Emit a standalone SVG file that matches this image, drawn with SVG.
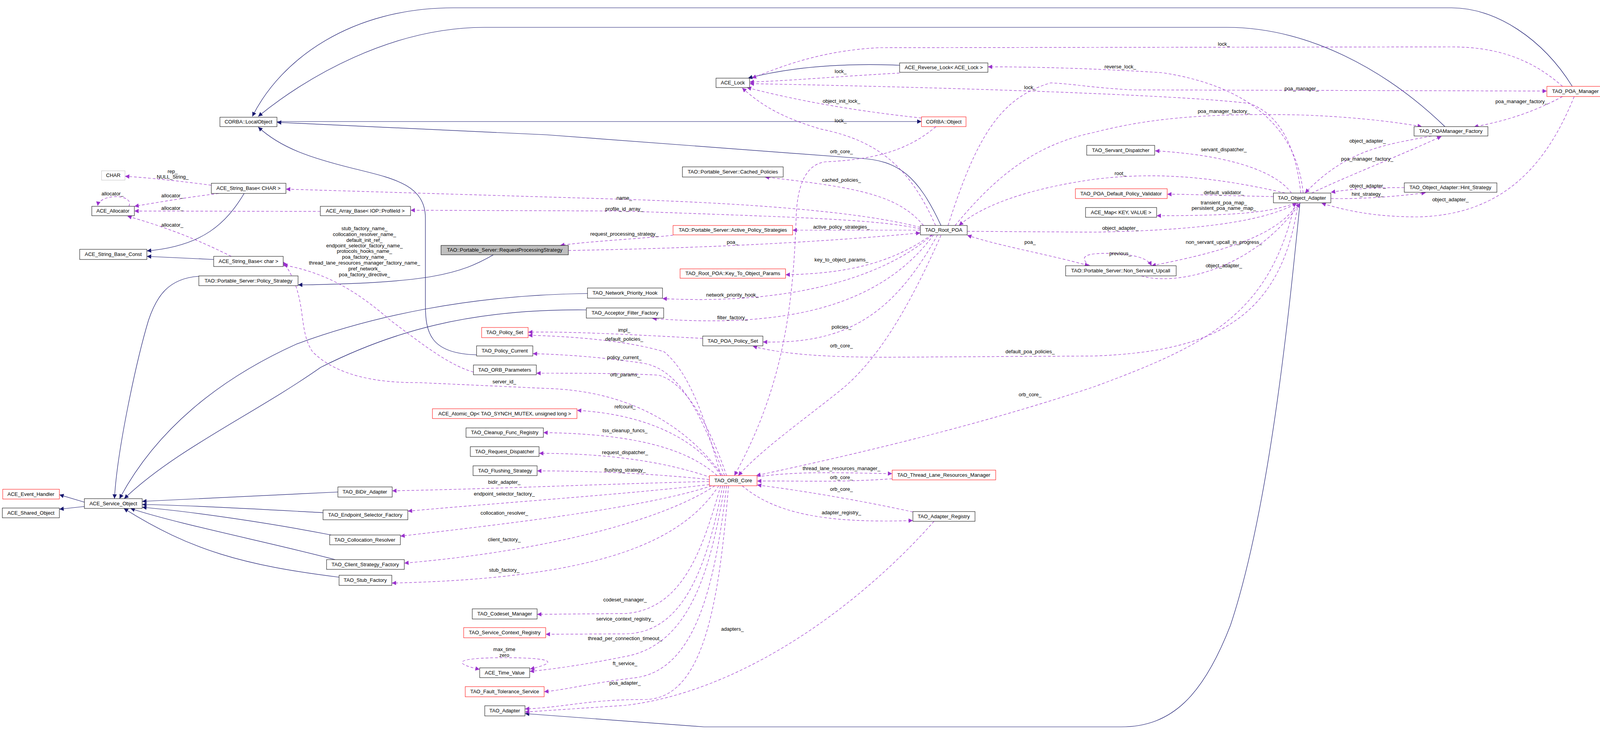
<svg xmlns="http://www.w3.org/2000/svg" width="4168" height="1868" viewBox="0 0 4168 1868">
<style>
text{font-family:"Liberation Sans",Arial,sans-serif;font-size:13px;fill:#000}
.n text{text-anchor:middle}
.n rect{fill:#fff;stroke:#000;stroke-width:1}
.n.r rect{stroke:#ff0000}
.n.g rect{stroke:#bfbfbf}
.n.h rect{fill:#bfbfbf}
.i{fill:none;stroke:#191970;stroke-width:1.2;marker-end:url(#ai)}
.u{fill:none;stroke:#9a32cd;stroke-width:1.2;stroke-dasharray:7,5;marker-end:url(#au)}
.b{marker-start:url(#aus)}
.l text{text-anchor:middle}
</style>
<defs>
<marker id="ai" viewBox="0 0 10 10" refX="10" refY="5" markerWidth="13" markerHeight="11" markerUnits="userSpaceOnUse" orient="auto"><path d="M0,0 L10,5 L0,10 z" fill="#191970"/></marker>
<marker id="au" viewBox="0 0 10 10" refX="10" refY="5" markerWidth="13" markerHeight="11" markerUnits="userSpaceOnUse" orient="auto"><path d="M0,0 L10,5 L0,10 z" fill="#9a32cd"/></marker>
<marker id="aus" viewBox="0 0 10 10" refX="10" refY="5" markerWidth="13" markerHeight="11" markerUnits="userSpaceOnUse" orient="auto-start-reverse"><path d="M0,0 L10,5 L0,10 z" fill="#9a32cd"/></marker>
</defs>
<rect width="4168" height="1868" fill="#fff"/>
<g id="connectors">
<path class="i" d="M216,1285 L152,1266"/>
<path class="i" d="M216,1296 L152,1303"/>
<path class="i" d="M865,1259 L364,1283"/>
<path class="i" d="M827,1312 C700,1305 500,1293 364,1291"/>
<path class="i" d="M848,1369 C700,1340 500,1310 364,1298"/>
<path class="i" d="M858,1432 C700,1390 450,1340 334,1301"/>
<path class="i" d="M868,1477 C625,1447 487,1408 317,1301"/>
<path class="i" d="M509,707 C430,712 400,760 380,820 C350,920 300,1150 293,1276"/>
<path class="i" d="M1504,751 C1200,755 950,810 760,880 C560,970 400,1100 306,1276"/>
<path class="i" d="M1501,793 C1200,790 1000,850 821,940 C650,1060 450,1150 318,1276"/>
<path class="i" d="M1263,652 C1180,700 1100,725 763,729"/>
<path class="i" d="M625,495 C580,570 520,630 376,642"/>
<path class="i" d="M547,664 L376,656"/>
<path class="i" d="M2303,167 C2200,163 2050,165 1915,200"/>
<path class="i" d="M1220,908 C1100,905 1089,850 1089,779 L1089,558 C1089,470 1000,455 900,430 C800,405 720,380 661,325"/>
<path class="i" d="M2409,577 C2350,450 2300,410 2200,405 L1400,345 L709,313"/>
<path class="i" d="M709,311 L2359,311"/>
<path class="i" d="M4025,221 C3950,100 3830,20 3716,20 L1161,20 C900,20 720,150 646,298"/>
<path class="i" d="M3699,324 C3550,180 3350,70 3140,70 L1240,70 C1000,70 780,200 661,298"/>
<path class="i" d="M3328,519 C3300,800 3250,1300 3150,1600 C3080,1780 3000,1860 2870,1860 L1802,1860 L1344,1826"/>

<path class="u" d="M541,474 C450,462 380,455 320,451"/>
<path class="u" d="M330,528 C345,495 255,495 250,527"/>
<path class="u" d="M560,495 C480,505 420,515 344,528"/>
<path class="u" d="M820,541 L344,540"/>
<path class="u" d="M592,656 C500,610 420,580 326,553"/>
<path class="u" d="M1212,952 C1150,935 1080,880 1000,820 C930,760 850,700 725,678"/>
<path class="u" d="M1850,1217 C1750,1080 1600,1000 1400,994 L1071,979 C960,980 860,960 800,900 C760,840 790,760 725,670"/>
<path class="u" d="M2356,582 C2200,540 1900,520 1598,510 L732,484"/>
<path class="u" d="M2356,586 C2250,560 2000,555 1600,540 L1051,538"/>
<path class="u" d="M2364,577 C2300,500 2200,480 1958,453"/>
<path class="u" d="M2356,589 L2029,589"/>
<path class="u" d="M1723,602 C1650,610 1500,618 1434,628"/>
<path class="u" d="M1455,641 C1800,635 2100,620 2356,596"/>
<path class="u" d="M2385,601 C2300,660 2200,700 2011,703"/>
<path class="u" d="M2387,601 C2250,720 2000,780 1696,764"/>
<path class="u" d="M2390,601 C2250,790 2000,840 1670,815"/>
<path class="u" d="M2400,601 C2280,820 2150,880 1953,875"/>
<path class="u" d="M1799,866 C1600,855 1450,848 1352,850"/>
<path class="u" d="M1845,1217 C1800,1050 1760,950 1700,900 C1600,870 1450,860 1352,858"/>
<path class="u" d="M1855,1217 C1800,1080 1750,950 1650,930 C1550,915 1450,907 1364,905"/>
<path class="u" d="M1860,1217 C1820,1100 1760,980 1686,960 C1600,955 1480,955 1373,955"/>
<path class="u" d="M1846,1217 C1780,1120 1650,1060 1477,1050"/>
<path class="u" d="M1836,1217 C1750,1140 1600,1110 1391,1107"/>
<path class="u" d="M1820,1222 C1700,1180 1550,1160 1380,1160"/>
<path class="u" d="M1816,1227 C1650,1210 1500,1205 1375,1205"/>
<path class="u" d="M1816,1232 C1500,1240 1300,1250 1004,1256"/>
<path class="u" d="M1816,1240 C1600,1265 1300,1285 1044,1308"/>
<path class="u" d="M1822,1243 C1650,1300 1300,1340 1025,1372"/>
<path class="u" d="M1830,1243 C1700,1330 1400,1410 1035,1441"/>
<path class="u" d="M1840,1243 C1750,1380 1550,1480 1003,1492"/>
<path class="u" d="M1845,1243 C1800,1400 1750,1560 1600,1570 L1375,1572"/>
<path class="u" d="M1850,1243 C1810,1450 1750,1620 1600,1622 L1397,1623"/>
<path class="u" d="M1855,1243 C1820,1450 1770,1650 1600,1680 C1500,1700 1420,1712 1356,1718"/>
<path class="u b" d="M1357,1712 C1430,1695 1420,1683 1290,1683 C1160,1683 1160,1698 1228,1713"/>
<path class="u" d="M1860,1243 C1830,1500 1780,1720 1620,1735 C1500,1750 1450,1765 1393,1770"/>
<path class="u" d="M1865,1243 C1840,1550 1800,1790 1650,1790 C1500,1790 1450,1810 1344,1814"/>
<path class="u" d="M2391,1334 C2200,1550 1900,1770 1600,1805 L1344,1822"/>
<path class="u" d="M1938,1220 C2050,1205 2150,1210 2284,1212"/>
<path class="u" d="M2284,1225 C2150,1235 2050,1230 1938,1231"/>
<path class="u" d="M2337,1310 C2200,1280 2050,1255 1938,1241"/>
<path class="u" d="M1900,1243 C1980,1310 2100,1340 2337,1332"/>
<path class="u" d="M3315,520 C3250,800 3100,880 2800,990 C2500,1090 2200,1160 1936,1217"/>
<path class="u" d="M2409,602 C2330,780 2250,920 2150,1000 C2050,1080 1950,1150 1890,1217"/>
<path class="u" d="M2396,324 C2330,380 2250,408 2114,414 C2060,420 2040,480 2038,560 C2030,800 2000,1000 1880,1217"/>
<path class="u" d="M3323,520 C3280,820 3100,900 2800,911 L2293,914 C2100,915 2000,905 1927,886"/>
<path class="u" d="M2303,187 C2150,195 2050,205 1919,210"/>
<path class="u" d="M2359,302 C2200,285 2050,260 1912,224"/>
<path class="u" d="M2395,577 C2330,430 2250,360 2100,330 C2000,300 1950,270 1900,225"/>
<path class="u" d="M3330,494 C3320,400 3290,300 3200,265 C3050,245 2500,225 1919,214"/>
<path class="u" d="M3336,494 C3320,330 3200,220 2975,186 C2800,175 2650,171 2529,171"/>
<path class="u" d="M4000,221 C3920,150 3830,120 3716,120 L2250,122 C2100,130 2000,170 1925,200"/>
<path class="u" d="M2427,577 C2500,350 2560,250 2690,212 C2750,215 2800,225 2900,230 L3960,233"/>
<path class="u" d="M2445,577 C2550,450 2650,370 2800,339 C2950,300 3100,290 3324,294 C3450,298 3560,310 3640,324"/>
<path class="u" d="M4000,247 C3920,290 3850,310 3773,325"/>
<path class="u" d="M4030,247 C3960,420 3850,550 3630,555 C3520,555 3450,540 3383,520"/>
<path class="u" d="M3665,348 C3550,370 3450,380 3341,494"/>
<path class="u" d="M3358,494 C3450,450 3580,400 3690,349"/>
<path class="u" d="M3595,480 C3500,480 3450,485 3407,492"/>
<path class="u" d="M3407,508 C3500,510 3600,500 3650,493"/>
<path class="u" d="M3306,494 C3260,430 3120,395 2957,386"/>
<path class="u" d="M3290,494 C3100,450 2950,440 2800,459 C2650,480 2520,520 2455,577"/>
<path class="u" d="M3260,503 C3100,500 3050,497 2988,497"/>
<path class="u" d="M3315,520 C3250,545 3150,552 2961,552"/>
<path class="u" d="M2476,592 L2800,594 C3050,590 3230,570 3320,520"/>
<path class="u" d="M3322,520 C3270,610 3100,650 2948,680"/>
<path class="u" d="M2922,706 C3000,730 3200,700 3328,520"/>
<path class="u" d="M2790,680 C2750,650 2800,645 2870,650 C2920,655 2940,665 2948,680"/>
<path class="u b" d="M2476,602 C2560,630 2680,650 2788,680"/>
</g>
<g id="labels" class="l">
<text x="442" y="443">rep_</text><text x="442" y="457">NULL_String_</text>
<text x="288" y="500">allocator_</text>
<text x="441" y="505">allocator_</text>
<text x="441" y="537">allocator_</text>
<text x="441" y="580">allocator_</text>
<text x="933" y="589">stub_factory_name_</text>
<text x="933" y="604">collocation_resolver_name_</text>
<text x="933" y="619">default_init_ref_</text>
<text x="933" y="633">endpoint_selector_factory_name_</text>
<text x="933" y="647">protocols_hooks_name_</text>
<text x="933" y="662">poa_factory_name_</text>
<text x="933" y="677">thread_lane_resources_manager_factory_name_</text>
<text x="933" y="692">pref_network_</text>
<text x="933" y="707">poa_factory_directive_</text>
<text x="2152" y="187">lock_</text>
<text x="2154" y="263">object_init_lock_</text>
<text x="2152" y="313">lock_</text>
<text x="2154" y="392">orb_core_</text>
<text x="2154" y="465">cached_policies_</text>
<text x="1598" y="511">name_</text>
<text x="1598" y="539">profile_id_array_</text>
<text x="2154" y="585">active_policy_strategies_</text>
<text x="1598" y="603">request_processing_strategy_</text>
<text x="1875" y="624">poa_</text>
<text x="2154" y="669">key_to_object_params_</text>
<text x="1875" y="759">network_priority_hook_</text>
<text x="1875" y="817">filter_factory_</text>
<text x="1598" y="849">impl_</text>
<text x="2154" y="841">policies_</text>
<text x="1598" y="872">default_policies_</text>
<text x="2154" y="889">orb_core_</text>
<text x="1598" y="919">policy_current_</text>
<text x="2637" y="228">lock_</text>
<text x="2637" y="624">poa_</text>
<text x="2637" y="904">default_poa_policies_</text>
<text x="3133" y="117">lock_</text>
<text x="2868" y="175">reverse_lock_</text>
<text x="3332" y="231">poa_manager_</text>
<text x="3133" y="289">poa_manager_factory_</text>
<text x="3895" y="264">poa_manager_factory_</text>
<text x="3501" y="365">object_adapter_</text>
<text x="3133" y="387">servant_dispatcher_</text>
<text x="3500" y="411">poa_manager_factory_</text>
<text x="2868" y="448">root_</text>
<text x="3501" y="480">object_adapter_</text>
<text x="3501" y="501">hint_strategy_</text>
<text x="3713" y="515">object_adapter_</text>
<text x="3133" y="497">default_validator_</text>
<text x="3133" y="523">transient_poa_map_</text>
<text x="3133" y="537">persistent_poa_name_map_</text>
<text x="2868" y="588">object_adapter_</text>
<text x="3133" y="624">non_servant_upcall_in_progress_</text>
<text x="2868" y="653">previous_</text>
<text x="3133" y="684">object_adapter_</text>
<text x="1291" y="981">server_id_</text>
<text x="1291" y="1238">bidir_adapter_</text>
<text x="1291" y="1268">endpoint_selector_factory_</text>
<text x="1291" y="1317">collocation_resolver_</text>
<text x="1291" y="1385">client_factory_</text>
<text x="1291" y="1463">stub_factory_</text>
<text x="1291" y="1666">max_time</text><text x="1291" y="1681">zero</text>
<text x="1600" y="963">orb_params_</text>
<text x="1600" y="1045">refcount_</text>
<text x="1600" y="1106">tss_cleanup_funcs_</text>
<text x="1600" y="1162">request_dispatcher_</text>
<text x="1600" y="1207">flushing_strategy_</text>
<text x="2637" y="1014">orb_core_</text>
<text x="2154" y="1203">thread_lane_resources_manager_</text>
<text x="2154" y="1226">orb_core_</text>
<text x="2154" y="1256">orb_core_</text>
<text x="2154" y="1316">adapter_registry_</text>
<text x="1600" y="1539">codeset_manager_</text>
<text x="1600" y="1588">service_context_registry_</text>
<text x="1600" y="1638">thread_per_connection_timeout_</text>
<text x="1875" y="1614">adapters_</text>
<text x="1600" y="1702">ft_service_</text>
<text x="1600" y="1752">poa_adapter_</text>
</g>
<g id="LocalObject" class="n"><rect x="563" y="300" width="146" height="24"/><text x="636" y="316">CORBA::LocalObject</text></g>
<g id="CHAR" class="n g"><rect x="260" y="437" width="60" height="24"/><text x="290" y="453">CHAR</text></g>
<g id="StringBaseCHAR" class="n"><rect x="541" y="469" width="191" height="26"/><text x="636" y="486">ACE_String_Base&lt; CHAR &gt;</text></g>
<g id="Allocator" class="n"><rect x="235" y="528" width="109" height="24"/><text x="289" y="544">ACE_Allocator</text></g>
<g id="ArrayBase" class="n"><rect x="820" y="528" width="231" height="24"/><text x="935" y="544">ACE_Array_Base&lt; IOP::ProfileId &gt;</text></g>
<g id="StringBaseConst" class="n"><rect x="204" y="638" width="172" height="26"/><text x="290" y="655">ACE_String_Base_Const</text></g>
<g id="StringBaseChar" class="n"><rect x="547" y="656" width="178" height="26"/><text x="636" y="673">ACE_String_Base&lt; char &gt;</text></g>
<g id="PolicyStrategy" class="n"><rect x="509" y="706" width="254" height="25"/><text x="636" y="723">TAO::Portable_Server::Policy_Strategy</text></g>
<g id="RPS" class="n h"><rect x="1129" y="628" width="326" height="24"/><text x="1292" y="644">TAO::Portable_Server::RequestProcessingStrategy</text></g>
<g id="PolicySet" class="n r"><rect x="1233" y="838" width="119" height="26"/><text x="1292" y="855">TAO_Policy_Set</text></g>
<g id="PolicyCurrent" class="n"><rect x="1220" y="885" width="144" height="26"/><text x="1292" y="902">TAO_Policy_Current</text></g>
<g id="ORBParameters" class="n"><rect x="1212" y="934" width="161" height="25"/><text x="1292" y="951">TAO_ORB_Parameters</text></g>
<g id="ACELock" class="n"><rect x="1833" y="200" width="86" height="24"/><text x="1876" y="216">ACE_Lock</text></g>
<g id="ReverseLock" class="n"><rect x="2303" y="161" width="226" height="24"/><text x="2416" y="177">ACE_Reverse_Lock&lt; ACE_Lock &gt;</text></g>
<g id="CORBAObject" class="n r"><rect x="2359" y="299" width="114" height="25"/><text x="2416" y="316">CORBA::Object</text></g>
<g id="CachedPolicies" class="n"><rect x="1747" y="427" width="258" height="26"/><text x="1876" y="444">TAO::Portable_Server::Cached_Policies</text></g>
<g id="ActivePolicyStrategies" class="n r"><rect x="1723" y="577" width="306" height="24"/><text x="1876" y="593">TAO::Portable_Server::Active_Policy_Strategies</text></g>
<g id="RootPOA" class="n"><rect x="2356" y="577" width="120" height="24"/><text x="2416" y="593">TAO_Root_POA</text></g>
<g id="KeyToObjectParams" class="n r"><rect x="1741" y="688" width="270" height="24"/><text x="1876" y="704">TAO_Root_POA::Key_To_Object_Params</text></g>
<g id="NetworkPriorityHook" class="n"><rect x="1504" y="737" width="192" height="26"/><text x="1600" y="754">TAO_Network_Priority_Hook</text></g>
<g id="AcceptorFilterFactory" class="n"><rect x="1501" y="788" width="198" height="26"/><text x="1600" y="805">TAO_Acceptor_Filter_Factory</text></g>
<g id="POAPolicySet" class="n"><rect x="1799" y="860" width="154" height="25"/><text x="1876" y="877">TAO_POA_Policy_Set</text></g>
<g id="POAManager" class="n r"><rect x="3960" y="221" width="146" height="26"/><text x="4033" y="238">TAO_POA_Manager</text></g>
<g id="POAManagerFactory" class="n"><rect x="3620" y="324" width="189" height="24"/><text x="3714" y="340">TAO_POAManager_Factory</text></g>
<g id="ServantDispatcher" class="n"><rect x="2782" y="372" width="174" height="25"/><text x="2869" y="389">TAO_Servant_Dispatcher</text></g>
<g id="ObjectAdapter" class="n"><rect x="3260" y="494" width="147" height="25"/><text x="3333" y="511">TAO_Object_Adapter</text></g>
<g id="HintStrategy" class="n"><rect x="3595" y="468" width="237" height="24"/><text x="3713" y="484">TAO_Object_Adapter::Hint_Strategy</text></g>
<g id="DefaultPolicyValidator" class="n r"><rect x="2753" y="483" width="235" height="25"/><text x="2870" y="500">TAO_POA_Default_Policy_Validator</text></g>
<g id="ACEMap" class="n"><rect x="2779" y="531" width="182" height="25"/><text x="2870" y="548">ACE_Map&lt; KEY, VALUE &gt;</text></g>
<g id="NonServantUpcall" class="n"><rect x="2728" y="680" width="283" height="26"/><text x="2869" y="697">TAO::Portable_Server::Non_Servant_Upcall</text></g>
<g id="EventHandler" class="n r"><rect x="7" y="1252" width="145" height="25"/><text x="79" y="1269">ACE_Event_Handler</text></g>
<g id="SharedObject" class="n"><rect x="6" y="1300" width="146" height="25"/><text x="79" y="1317">ACE_Shared_Object</text></g>
<g id="ServiceObject" class="n"><rect x="216" y="1276" width="148" height="25"/><text x="290" y="1293">ACE_Service_Object</text></g>
<g id="BiDirAdapter" class="n"><rect x="865" y="1246" width="139" height="26"/><text x="934" y="1263">TAO_BiDir_Adapter</text></g>
<g id="EndpointSelectorFactory" class="n"><rect x="827" y="1305" width="217" height="25"/><text x="935" y="1322">TAO_Endpoint_Selector_Factory</text></g>
<g id="CollocationResolver" class="n"><rect x="844" y="1369" width="181" height="25"/><text x="934" y="1386">TAO_Collocation_Resolver</text></g>
<g id="ClientStrategyFactory" class="n"><rect x="836" y="1432" width="199" height="25"/><text x="935" y="1449">TAO_Client_Strategy_Factory</text></g>
<g id="StubFactory" class="n"><rect x="868" y="1472" width="135" height="26"/><text x="935" y="1489">TAO_Stub_Factory</text></g>
<g id="AtomicOp" class="n r"><rect x="1107" y="1046" width="370" height="25"/><text x="1292" y="1063">ACE_Atomic_Op&lt; TAO_SYNCH_MUTEX, unsigned long &gt;</text></g>
<g id="CleanupFuncRegistry" class="n"><rect x="1193" y="1095" width="198" height="24"/><text x="1292" y="1111">TAO_Cleanup_Func_Registry</text></g>
<g id="RequestDispatcher" class="n"><rect x="1204" y="1143" width="176" height="25"/><text x="1292" y="1160">TAO_Request_Dispatcher</text></g>
<g id="FlushingStrategy" class="n"><rect x="1211" y="1192" width="164" height="25"/><text x="1293" y="1209">TAO_Flushing_Strategy</text></g>
<g id="CodesetManager" class="n"><rect x="1209" y="1558" width="166" height="26"/><text x="1292" y="1575">TAO_Codeset_Manager</text></g>
<g id="ServiceContextRegistry" class="n r"><rect x="1187" y="1606" width="210" height="26"/><text x="1292" y="1623">TAO_Service_Context_Registry</text></g>
<g id="TimeValue" class="n"><rect x="1228" y="1709" width="128" height="25"/><text x="1292" y="1726">ACE_Time_Value</text></g>
<g id="FaultToleranceService" class="n r"><rect x="1191" y="1757" width="202" height="26"/><text x="1292" y="1774">TAO_Fault_Tolerance_Service</text></g>
<g id="TAOAdapter" class="n"><rect x="1241" y="1806" width="103" height="26"/><text x="1292" y="1823">TAO_Adapter</text></g>
<g id="ORBCore" class="n r"><rect x="1816" y="1217" width="122" height="26"/><text x="1877" y="1234">TAO_ORB_Core</text></g>
<g id="ThreadLaneResourcesManager" class="n r"><rect x="2284" y="1203" width="265" height="25"/><text x="2416" y="1220">TAO_Thread_Lane_Resources_Manager</text></g>
<g id="AdapterRegistry" class="n"><rect x="2337" y="1309" width="159" height="25"/><text x="2416" y="1326">TAO_Adapter_Registry</text></g>
</svg>
